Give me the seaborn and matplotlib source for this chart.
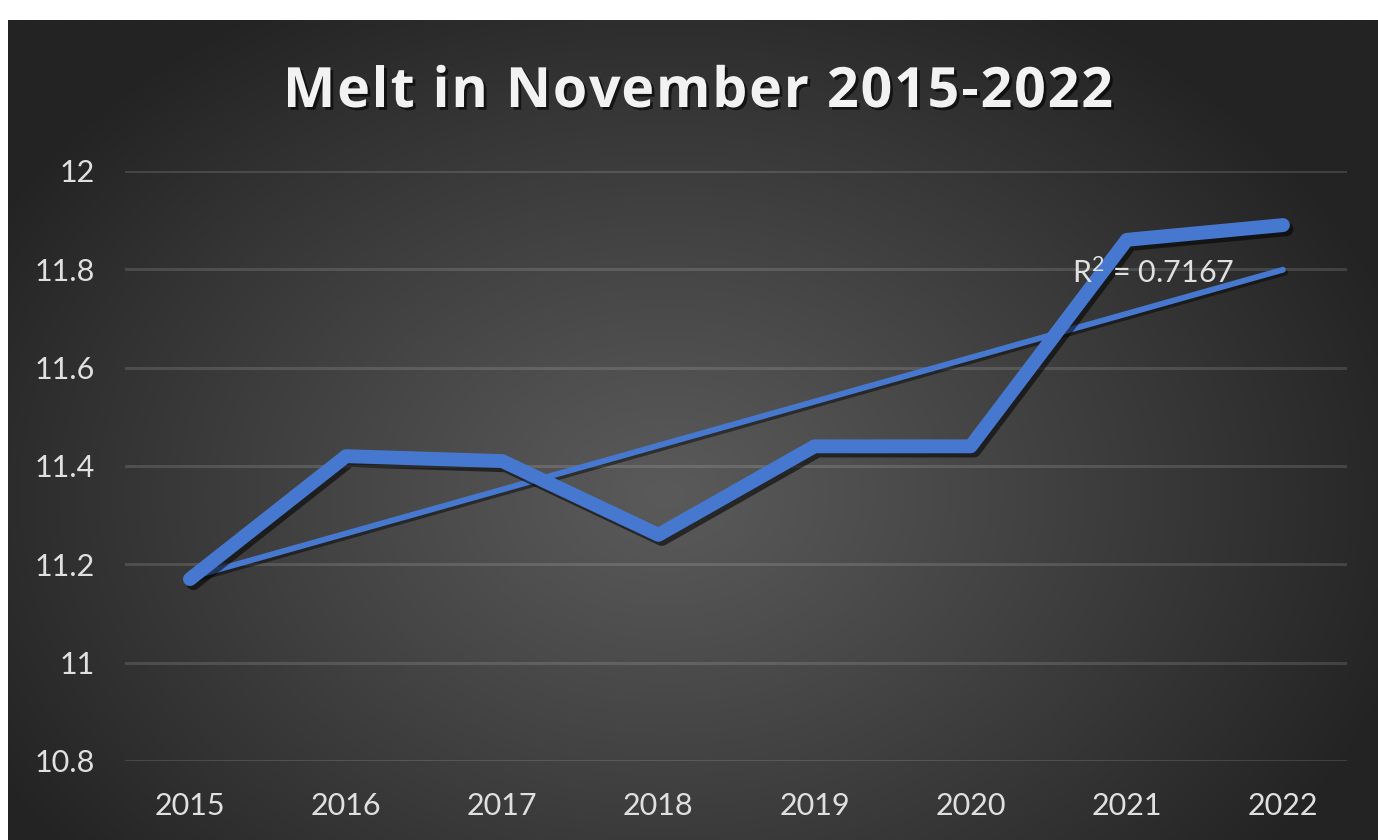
import numpy as np
import pandas as pd
import matplotlib
matplotlib.use("Agg")
import matplotlib.pyplot as plt
import matplotlib.patheffects as pe
from matplotlib.font_manager import FontProperties
import seaborn as sns

# November melt values per year
years = [2015, 2016, 2017, 2018, 2019, 2020, 2021, 2022]
melt = [11.17, 11.42, 11.41, 11.26, 11.44, 11.44, 11.86, 11.89]
y_ticks = [10.8, 11.0, 11.2, 11.4, 11.6, 11.8, 12.0]
y_tick_labels = ["10.8", "11", "11.2", "11.4", "11.6", "11.8", "12"]
title = "Melt in November 2015-2022"
r2_label = "R$^{2}$ = 0.7167"

df = pd.DataFrame({"year": years, "melt": melt})

sns.set_theme(style="white")
plt.rcParams["font.family"] = ["Lato", "DejaVu Sans"]
plt.rcParams["mathtext.fontset"] = "custom"
plt.rcParams["mathtext.rm"] = "Lato"
plt.rcParams["mathtext.it"] = "Lato"
plt.rcParams["mathtext.default"] = "regular"

W, H = 1378, 840
fig = plt.figure(figsize=(W / 100, H / 100), dpi=100)
fig.patch.set_facecolor("white")

# Dark chart area with a soft radial gradient
bg = fig.add_axes([8 / W, 0, 1 - 8 / W, (H - 20) / H])
bg.set_axis_off()
gy, gx = np.mgrid[0:1:400j, 0:1:600j]
r = np.sqrt(((gx - 0.48) / 0.5) ** 2 + ((gy - 0.58) / 0.62) ** 2) / np.sqrt(2)
r = np.clip(r, 0, 1)
inner, outer = 0x5a / 255, 0x23 / 255
val = inner + (outer - inner) * np.clip(r * 1.25, 0, 1) ** 1.1
img = np.dstack([val, val, val])
bg.imshow(img, aspect="auto", extent=[0, 1, 0, 1], origin="upper")

# Plot axes
ax = fig.add_axes([125 / W, (H - 761) / H, (1347 - 125) / W, (761 - 171) / H])
ax.patch.set_alpha(0)
for s in ax.spines.values():
    s.set_visible(False)

ax.set_ylim(10.8, 12.0)
ax.set_xlim(2015 - 0.416, 2022 + 0.41)
ax.set_yticks(y_ticks)
ax.set_yticklabels(y_tick_labels)
ax.set_xticks(years)
ax.set_xticklabels([str(y) for y in years])
ax.grid(axis="y", color="white", alpha=0.13, linewidth=2.2)
ax.set_axisbelow(True)
ax.tick_params(axis="both", length=0, labelsize=22, labelcolor="#e0e0e0")
ax.tick_params(axis="y", pad=22)
ax.tick_params(axis="x", pad=22)

blue = "#4778d0"
shadow = [pe.SimpleLineShadow(offset=(2.5, -3), shadow_color="black", alpha=0.55),
          pe.Normal()]

sns.lineplot(data=df, x="year", y="melt", ax=ax, color=blue, linewidth=10,
             solid_joinstyle="round", solid_capstyle="round",
             path_effects=shadow, zorder=3)

sns.regplot(data=df, x="year", y="melt", ax=ax, scatter=False, ci=None,
            truncate=True,
            line_kws=dict(color=blue, linewidth=4.2, solid_capstyle="round",
                          path_effects=[pe.SimpleLineShadow(offset=(1.5, -2),
                                                            shadow_color="black",
                                                            alpha=0.45),
                                        pe.Normal()],
                          zorder=2))
ax.set_xlabel("")
ax.set_ylabel("")

ax.text(2020.65, 11.772, r2_label, fontsize=22, color="#e0e0e0",
        ha="left", va="baseline", zorder=4)

# Title drawn glyph by glyph with a little extra tracking
title_fp = FontProperties(family=["Open Sans", "DejaVu Sans"], weight="bold",
                          size=40)
renderer = fig.canvas.get_renderer()


def text_width(s):
    w, _, _ = renderer.get_text_width_height_descent(s, title_fp, ismath=False)
    return w


bar_w = text_width("|")
offsets = [text_width(title[:i] + "|") - bar_w if i else 0.0
           for i in range(len(title))]
natural = text_width(title)
target = 830.0
tracking = (target - natural) / (len(title) - 1)
x0 = 698 - target / 2
baseline = 1 - 107 / H
for i, ch in enumerate(title):
    if ch == " ":
        continue
    fig.text((x0 + offsets[i] + tracking * i) / W, baseline, ch,
             ha="left", va="baseline", fontproperties=title_fp,
             color="#f2f2f2",
             path_effects=[pe.withSimplePatchShadow(offset=(2, -2),
                                                    shadow_rgbFace="black",
                                                    alpha=0.6)])

fig.savefig("out.png", dpi=100)
